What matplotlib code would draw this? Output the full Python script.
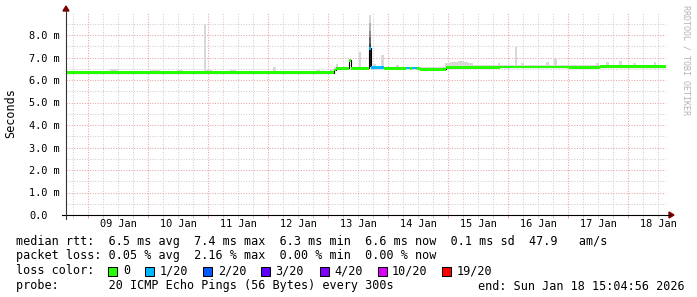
import numpy as np
import matplotlib
matplotlib.use('Agg')
import matplotlib.pyplot as plt
from matplotlib.patches import Rectangle, Polygon
from matplotlib.lines import Line2D

W, H = 697, 297
MONO = 'DejaVu Sans Mono'

# time axis in hours since 08 Jan 2026 00:00
t_start = 15.08
t_end = 255.08

day_labels = ['09 Jan', '10 Jan', '11 Jan', '12 Jan', '13 Jan',
              '14 Jan', '15 Jan', '16 Jan', '17 Jan', '18 Jan']
day_label_hours = [36, 60, 84, 108, 132, 156, 180, 204, 228, 252]

y_ticks = [0, 1, 2, 3, 4, 5, 6, 7, 8]
y_tick_labels = ['0.0', '1.0 m', '2.0 m', '3.0 m', '4.0 m',
                 '5.0 m', '6.0 m', '7.0 m', '8.0 m']

# median rtt (ms), step function starting at each hour, with loss class
median_hours = [15.08, 122.3, 123.1, 128.3, 128.9, 136.1, 136.9, 142.3,
                151.1, 152.7, 153.5, 155.5, 156.7, 167.1, 188.7, 216.1, 228.7]
median_ms = [6.32, 6.44, 6.52, 6.88, 6.52, 7.41, 6.55, 6.52,
             6.53, 6.52, 6.53, 6.52, 6.48, 6.57, 6.58, 6.56, 6.59]
median_loss = [0, 0, 0, 0, 0, 1, 1, 0, 1, 0, 1, 0, 0, 0, 0, 0, 0]

# upper edge of the smoke (ms), step function
smoke_hours = [15.08, 32.7, 35.9, 48.7, 52.7, 59.5, 61.9, 70.3, 71.1, 73.5,
               80.7, 83.1, 97.9, 99.1, 104.7, 115.1, 116.5, 120.7, 122.3, 123.1,
               123.9, 132.2, 133.0, 136.1, 137.0, 137.9, 139.1, 141.1, 142.1, 147.1,
               148.3, 166.7, 168.7, 171.9, 173.9, 175.9, 177.9, 187.9, 188.7, 194.7,
               195.5, 197.1, 198.3, 207.1, 208.3, 210.3, 211.5, 227.1, 228.3, 231.1,
               232.3, 236.3, 237.5, 241.9, 243.1, 250.3, 251.1]
smoke_ms = [6.40, 6.47, 6.40, 6.44, 6.40, 6.46, 6.40, 8.49, 6.44, 6.40,
            6.44, 6.40, 6.59, 6.42, 6.40, 6.46, 6.40, 6.50, 6.58, 6.71,
            6.58, 7.26, 6.58, 8.89, 6.60, 6.70, 6.60, 7.11, 6.60, 6.67,
            6.60, 6.74, 6.79, 6.84, 6.79, 6.74, 6.68, 6.75, 6.68, 7.48,
            6.68, 6.76, 6.68, 6.78, 6.68, 7.00, 6.68, 6.76, 6.68, 6.82,
            6.68, 6.85, 6.68, 6.76, 6.68, 6.80, 6.68]

# the one dense burst on 13 Jan, shaded by density
spike_hours = [136.1, 137.0]
spike_levels = [6.6, 7.4, 7.6, 7.9, 8.2, 8.55, 8.89]
spike_grays = ['#1e1e1e', '#404040', '#666666', '#8c8c8c', '#b4b4b4', '#d8d8d8']

loss_labels = ['0', '1/20', '2/20', '3/20', '4/20', '10/20', '19/20']
loss_colors = ['#26ff00', '#00b8ff', '#0059ff', '#5e00ff', '#7e00ff', '#dd00ff', '#ff0000']

stats_rtt = 'median rtt:  6.5 ms avg  7.4 ms max  6.3 ms min  6.6 ms now  0.1 ms sd  47.9   am/s'
stats_loss = 'packet loss: 0.05 % avg  2.16 % max  0.00 % min  0.00 % now'
probe_text = 'probe:       20 ICMP Echo Pings (56 Bytes) every 300s'
end_text = 'end: Sun Jan 18 15:04:56 2026'


def fx(px):
    return px / W


def fy(py):
    return 1 - py / H


def step_at(xs, ys, t):
    idx = np.searchsorted(xs, t, side='right') - 1
    return np.asarray(ys)[np.clip(idx, 0, None)]


fig = plt.figure(figsize=(W / 100, H / 100), dpi=100)
ax = fig.add_axes([fx(66), fy(215), 600 / W, (215 - 12.5) / H])
ax.set_xlim(t_start, t_end)
ax.set_ylim(0, 9.0)
for s in ax.spines.values():
    s.set_visible(False)

grid_gray = '#cfcfcf'
grid_red = '#e8a4a4'

# grid
for h in range(18, 256, 6):
    if t_start < h < t_end:
        c = grid_red if h % 24 == 0 else grid_gray
        ax.axvline(h, color=c, lw=0.75, ls=(0, (1, 1.5)), zorder=1)
        ax.vlines(h, -0.014, 0, color=c, lw=0.75,
                  transform=ax.get_xaxis_transform(), clip_on=False)
for v in np.arange(0.5, 9.0, 0.5):
    c = grid_red if v % 1 == 0 else grid_gray
    ax.axhline(v, color=c, lw=0.75, ls=(0, (1, 1.5)), zorder=1)

# smoke
grid_h = np.unique(np.concatenate([smoke_hours, median_hours, [t_end]]))
top = step_at(smoke_hours, smoke_ms, grid_h)
lo = step_at(median_hours, median_ms, grid_h) - 0.05
ax.fill_between(grid_h, lo, np.maximum(top, lo), step='post',
                color='#d8d8d8', lw=0, zorder=2)
for i, g in enumerate(spike_grays):
    ax.fill_between(spike_hours, spike_levels[i], spike_levels[i + 1],
                    color=g, lw=0, zorder=2.5)

# median line and loss coloured bars
xs = median_hours + [t_end]
ys = median_ms + [median_ms[-1]]
ax.step(xs, ys, where='post', color='#000000', lw=0.8, zorder=3)
for i, m in enumerate(median_ms):
    t0, t1 = xs[i], xs[i + 1]
    ax.fill_between([t0, t1], m - 0.06, m + 0.06,
                    color=loss_colors[median_loss[i]], lw=0, zorder=4)

# ticks
ax.set_xticks(day_label_hours, day_labels)
ax.set_yticks(y_ticks, y_tick_labels)
ax.tick_params(axis='x', length=0, pad=3.2, labelsize=7.4)
ax.tick_params(axis='y', length=0, pad=26.6, labelsize=7.4)
for lab in ax.get_xticklabels() + ax.get_yticklabels():
    lab.set_fontfamily(MONO)
for lab in ax.get_yticklabels():
    lab.set_horizontalalignment('left')

# axes with arrows
axis_col = '#333333'
fig.add_artist(Line2D([fx(62), fx(670)], [fy(215), fy(215)], color='#000000', lw=0.8))
fig.add_artist(Line2D([fx(66), fx(66)], [fy(219), fy(10)], color=axis_col, lw=0.8))
fig.add_artist(Polygon([(fx(669), fy(212)), (fx(674), fy(215)), (fx(669), fy(218))],
                       closed=True, color='#7f0000', transform=fig.transFigure))
fig.add_artist(Polygon([(fx(63), fy(11)), (fx(66), fy(6)), (fx(69), fy(11))],
                       closed=True, color='#7f0000', transform=fig.transFigure))

fig.text(fx(11), fy(113), 'Seconds', rotation=90, ha='center', va='center',
         fontsize=8.5, family=MONO)
fig.text(fx(686), fy(5), 'RRDTOOL / TOBI OETIKER', rotation=270, ha='center',
         va='top', fontsize=6, family=MONO, color='#b4b4b4')

# legend block
fig.text(fx(16), fy(241), stats_rtt, va='center', fontsize=8.5, family=MONO)
fig.text(fx(16), fy(256), stats_loss, va='center', fontsize=8.5, family=MONO)
fig.text(fx(16), fy(271), 'loss color:', va='center', fontsize=8.5, family=MONO)
box_x = [108, 145, 203, 261, 319.5, 378, 442]
text_x = [123.5, 160, 218, 275.5, 334, 392, 457]
for bx, tx, lab, col in zip(box_x, text_x, loss_labels, loss_colors):
    fig.add_artist(Rectangle((fx(bx), fy(275.5)), 9 / W, 9 / H, facecolor=col,
                             edgecolor='#000000', lw=0.75, transform=fig.transFigure))
    fig.text(fx(tx), fy(271), lab, va='center', fontsize=8.5, family=MONO)
fig.text(fx(16), fy(286), probe_text, va='center', fontsize=8.5, family=MONO)
fig.text(fx(478), fy(286), end_text, va='center', fontsize=8.5, family=MONO)

fig.savefig('out.png', dpi=100)
